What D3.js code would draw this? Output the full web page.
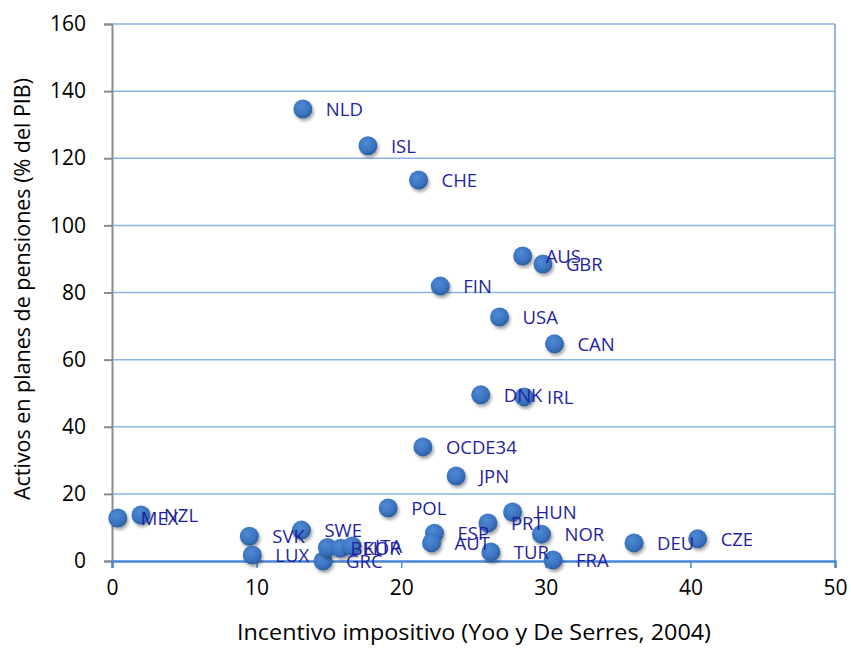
<!DOCTYPE html>
<html>
<head>
<meta charset="utf-8">
<script src="https://cdn.jsdelivr.net/npm/d3@7"></script>
<style>
  body { margin: 0; background: #fff; }
  text { font-family: "Open Sans", "Noto Sans", sans-serif; }
</style>
</head>
<body>
<svg width="851" height="649"></svg>
<script>
// country codes, tax incentive (x) and pension assets % GDP (y)
var countries = ["NLD", "ISL", "CHE", "AUS", "GBR", "FIN", "USA", "CAN", "DNK", "IRL",
    "OCDE34", "JPN", "POL", "HUN", "PRT", "NZL", "MEX", "SVK", "LUX", "SWE", "GRC",
    "BEL", "KOR", "ITA", "ESP", "AUT", "TUR", "NOR", "FRA", "DEU", "CZE"];
var incentive = [13.2, 17.7, 21.2, 28.4, 29.8, 22.7, 26.8, 30.6, 25.5, 28.5,
    21.5, 23.8, 19.1, 27.7, 26.0, 2.0, 0.4, 9.5, 9.7, 13.1, 14.6,
    14.9, 15.8, 16.6, 22.3, 22.1, 26.2, 29.7, 30.5, 36.1, 40.5];
var assets = [134.7, 123.7, 113.5, 90.9, 88.5, 81.9, 72.7, 64.7, 49.5, 48.9,
    34.0, 25.3, 15.8, 14.6, 11.3, 13.7, 12.8, 7.4, 1.8, 9.2, 0.0,
    4.0, 3.8, 4.5, 8.3, 5.4, 2.7, 8.0, 0.3, 5.4, 6.6];
var xTicks = [0, 10, 20, 30, 40, 50];
var yTicks = [0, 20, 40, 60, 80, 100, 120, 140, 160];
var xTitle = "Incentivo impositivo (Yoo y De Serres, 2004)";
var yTitle = "Activos en planes de pensiones  (% del PIB)";

var svg = d3.select("svg");
var plotLeft = 112, plotTop = 24, plotRight = 835, plotBottom = 561;

var x = d3.scaleLinear().domain([0, 50]).range([plotLeft, plotRight]);
var y = d3.scaleLinear().domain([0, 160]).range([plotBottom, plotTop]);

var defs = svg.append("defs");
var grad = defs.append("radialGradient").attr("id", "ball")
    .attr("cx", "40%").attr("cy", "35%").attr("r", "65%");
grad.append("stop").attr("offset", "0%").attr("stop-color", "#4f8ad3");
grad.append("stop").attr("offset", "70%").attr("stop-color", "#3a72bf");
grad.append("stop").attr("offset", "100%").attr("stop-color", "#2c5f9f");
var shadow = defs.append("filter").attr("id", "shadow")
    .attr("x", "-50%").attr("y", "-50%").attr("width", "200%").attr("height", "200%");
shadow.append("feDropShadow").attr("dx", 1.5).attr("dy", 2.5)
    .attr("stdDeviation", 1.8).attr("flood-color", "#000").attr("flood-opacity", 0.35);

// gridlines
svg.append("g").selectAll("line")
    .data(yTicks.slice(1))
    .enter().append("line")
    .attr("x1", plotLeft).attr("x2", plotRight)
    .attr("y1", function (d) { return y(d); })
    .attr("y2", function (d) { return y(d); })
    .attr("stroke", "#8cb3e6").attr("stroke-width", 1.5);

// right border
svg.append("line")
    .attr("x1", plotRight).attr("x2", plotRight).attr("y1", plotTop).attr("y2", plotBottom)
    .attr("stroke", "#6f9ee0").attr("stroke-width", 1.5);

// y axis
var yAxis = svg.append("g")
    .attr("transform", "translate(" + plotLeft + ",0)")
    .call(d3.axisLeft(y).tickValues(yTicks).tickSize(8).tickPadding(18));
yAxis.select(".domain").attr("stroke", "#8c8c8c").attr("stroke-width", 2);
yAxis.selectAll(".tick line").attr("stroke", "#8c8c8c").attr("stroke-width", 2);
yAxis.selectAll("text").attr("font-size", 21).attr("fill", "#000")
    .style("font-family", "'Open Sans', sans-serif");

// x axis
var xAxis = svg.append("g")
    .attr("transform", "translate(0," + plotBottom + ")")
    .call(d3.axisBottom(x).tickValues(xTicks).tickSize(7).tickPadding(12));
xAxis.select(".domain").attr("stroke", "#4a86d8").attr("stroke-width", 2.5);
xAxis.selectAll(".tick line").attr("stroke", "#4a86d8").attr("stroke-width", 1.5);
xAxis.selectAll("text").attr("font-size", 21).attr("fill", "#000")
    .style("font-family", "'Open Sans', sans-serif");

// axis titles
svg.append("text")
    .attr("x", 474).attr("y", 640)
    .attr("text-anchor", "middle").attr("font-size", 22)
    .attr("textLength", 474).attr("lengthAdjust", "spacingAndGlyphs")
    .text(xTitle);
svg.append("text")
    .attr("transform", "translate(30,289) rotate(-90)")
    .attr("text-anchor", "middle").attr("font-size", 21)
    .attr("textLength", 422).attr("lengthAdjust", "spacingAndGlyphs")
    .text(yTitle);

// points
var idx = d3.range(countries.length);
svg.append("g").selectAll("circle")
    .data(idx)
    .enter().append("circle")
    .attr("cx", function (i) { return x(incentive[i]); })
    .attr("cy", function (i) { return y(assets[i]); })
    .attr("r", 9.5)
    .attr("fill", "url(#ball)")
    .attr("filter", "url(#shadow)");

// labels
svg.append("g").selectAll("text")
    .data(idx)
    .enter().append("text")
    .attr("x", function (i) { return x(incentive[i]) + 23; })
    .attr("y", function (i) { return y(assets[i]) + 7; })
    .attr("font-size", 18.5)
    .attr("fill", "#1f1fa0")
    .style("font-family", "'Open Sans', sans-serif")
    .text(function (i) { return countries[i]; });
</script>
</body>
</html>
